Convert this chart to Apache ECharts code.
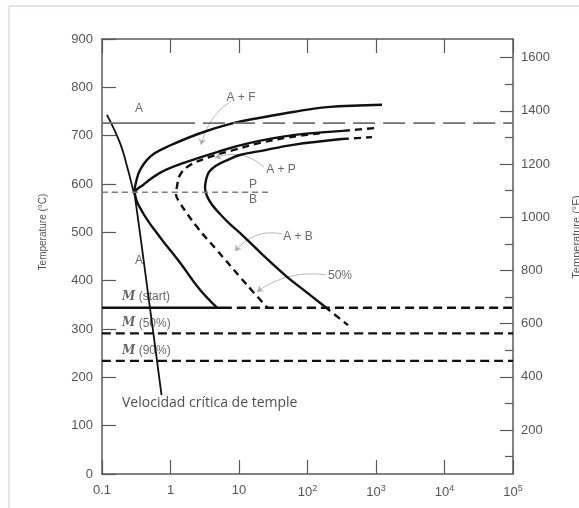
<!DOCTYPE html>
<html>
<head>
<meta charset="utf-8">
<script src="https://cdn.jsdelivr.net/npm/echarts@6/dist/echarts.min.js"></script>
<style>
html, body { margin: 0; padding: 0; background: #fff; }
#main { width: 579px; height: 508px; }
</style>
</head>
<body>
<div id="main"></div>
<script>
// tiempo (s, escala log) y temperatura (°C)
var xTicks = [0.1, 1, 10, 100, 1000, 10000, 100000];
var fTicks = [200, 400, 600, 800, 1000, 1200, 1400, 1600];
var fMinor = [100, 300, 500, 700, 900, 1100, 1300, 1500];

var ferriteStart = [[1224, 764], [193, 759], [61.4, 749], [20.3, 737], [8.17, 726], [2.70, 705], [0.89, 677], [0.594, 664], [0.454, 650], [0.359, 629], [0.324, 612], [0.293, 583]];
var startCurve = [[330, 710], [61.4, 701], [14.5, 685], [4.77, 666], [1.52, 643], [0.703, 623], [0.397, 598], [0.303, 581], [0.397, 540], [0.703, 490], [1.38, 437], [2.70, 381], [4.77, 344]];
var startTail = [[330, 710], [1035, 716]];
var halfCurve = [[152, 705], [55.6, 697], [20.3, 685], [8.17, 670], [3.77, 656], [1.93, 639], [1.38, 619], [1.24, 594], [1.20, 581], [1.29, 567], [2.44, 511], [4.77, 463], [10.3, 408], [16.0, 377], [26.5, 343]];
var finishCurve = [[319, 693], [61.4, 681], [20.3, 668], [10.3, 660], [6.9, 650], [4.77, 639], [3.65, 625], [3.30, 608], [3.19, 592], [3.41, 575], [4.04, 557], [5.28, 538], [7.39, 517], [10.3, 499], [22.4, 453], [50.2, 408], [95, 377], [180, 346]];
var finishTailTop = [[319, 693], [875, 697]];
var finishTailLow = [[180, 346], [390, 308]];
var critical = [[0.118, 743], [0.183, 685], [0.240, 629], [0.284, 588], [0.303, 573], [0.502, 343], [0.740, 163]];

var a1Solid = [[0.1, 726], [1.09, 726]];
var a1Dash = [[1.09, 726], [100000, 726]];
var pbLine = [[0.1, 583], [26.5, 583]];
var msSolid = [[0.1, 344], [5.84, 344]];
var msDash = [[5.84, 344], [100000, 344]];
var m50 = [[0.1, 291], [100000, 291]];
var m90 = [[0.1, 234], [100000, 234]];

var arrows = [
    [[7.64, 772], [2.79, 681], -0.2],
    [[23.2, 635], [4.47, 654], -0.3],
    [[42.4, 497], [8.75, 461], -0.3],
    [[186, 412], [18.3, 377], -0.2]
];
var notes = [
    ['A', 0.347, 755], ['A + F', 10.7, 778], ['A + P', 41, 629], ['P', 16, 598],
    ['B', 16, 567], ['A', 0.347, 441], ['A + B', 72.6, 492], ['50%', 298, 410]
];
var mNotes = [['start', 0.196, 366], ['50%', 0.196, 312], ['90%', 0.196, 254.5]];
var critNote = ['Velocidad crítica de temple', 0.196, 147];

var myChart = echarts.init(document.getElementById('main'));

function curve(data, dashed, color, width) {
    return {
        type: 'line', data: data, smooth: 0.4, symbol: 'none', silent: true,
        lineStyle: { color: color || '#111', width: width || 2.4, type: dashed || 'solid' }
    };
}

var axisColor = '#5a5a5a';
var series = [
    curve(ferriteStart),
    curve(startCurve),
    curve(startTail, [7, 5]),
    curve(halfCurve, [7, 5]),
    curve(finishCurve),
    curve(finishTailTop, [7, 5]),
    curve(finishTailLow, [7, 5]),
    curve(critical, null, '#111', 1.8),
    curve(a1Solid, null, '#707070', 1.8),
    curve(a1Dash, [22, 8], '#707070', 1.8),
    curve(pbLine, [6, 4], '#808080', 1.5),
    curve(msSolid, null, '#111', 2.4),
    curve(msDash, [9, 5], '#111', 2.4),
    curve(m50, [9, 5], '#111', 2.4),
    curve(m90, [9, 5], '#111', 2.4),
    {
        type: 'lines', coordinateSystem: 'cartesian2d', silent: true,
        symbol: ['none', 'arrow'], symbolSize: 6,
        lineStyle: { color: '#777', width: 1 },
        data: arrows.map(function (a) {
            return { coords: [a[0], a[1]], lineStyle: { curveness: a[2] } };
        })
    },
    {
        type: 'scatter', symbolSize: 0, silent: true,
        label: { show: true, position: 'inside', color: '#444', fontSize: 12, fontFamily: 'Liberation Sans',
            formatter: function (p) { return p.name; } },
        data: notes.map(function (n) { return { name: n[0], value: [n[1], n[2]] }; })
    },
    {
        type: 'scatter', symbolSize: 0, silent: true,
        label: { show: true, position: 'right', distance: 0, color: '#444', fontSize: 12, fontFamily: 'Liberation Sans',
            formatter: function (p) { return '{m|M} (' + p.name + ')'; },
            rich: { m: { fontFamily: 'DejaVu Serif', fontStyle: 'italic', fontWeight: 'bold', fontSize: 12, color: '#444' } } },
        data: mNotes.map(function (n) { return { name: n[0], value: [n[1], n[2]] }; })
    },
    {
        type: 'scatter', symbolSize: 0, silent: true,
        label: { show: true, position: 'right', distance: 0, color: '#222', fontSize: 14, fontFamily: 'Open Sans',
            formatter: function (p) { return p.name; } },
        data: [{ name: critNote[0], value: [critNote[1], critNote[2]] }]
    }
];

function xLabel(v) {
    var e = Math.round(Math.log(v) / Math.LN10);
    if (e === -1) return '0.1';
    if (e === 0) return '1';
    if (e === 1) return '10';
    return '10{s|' + e + '}';
}

option = {
    backgroundColor: '#fff',
    animation: false,
    grid: { left: 102, right: 66, top: 39, bottom: 34 },
    xAxis: [
        {
            type: 'log', logBase: 10, min: 0.1, max: 100000, position: 'bottom',
            axisLine: { lineStyle: { color: axisColor, width: 1.5 } },
            axisTick: { inside: true, length: 14, lineStyle: { color: axisColor, width: 1.2 } },
            splitLine: { show: false },
            axisLabel: {
                formatter: xLabel, color: '#555', fontSize: 13, fontFamily: 'Liberation Sans', margin: 10,
                rich: { s: { fontSize: 9, color: '#555', padding: [0, 0, 7, 0] } }
            }
        },
        {
            type: 'log', logBase: 10, min: 0.1, max: 100000, position: 'top',
            axisLine: { lineStyle: { color: axisColor, width: 1.5 } },
            axisTick: { inside: true, length: 14, lineStyle: { color: axisColor, width: 1.2 } },
            splitLine: { show: false },
            axisLabel: { show: false }
        }
    ],
    yAxis: [
        {
            type: 'value', min: 0, max: 900, interval: 100, position: 'left',
            axisLine: { show: true, lineStyle: { color: axisColor, width: 1.5 } },
            axisTick: { show: true, inside: true, length: 14, lineStyle: { color: axisColor, width: 1.2 } },
            splitLine: { show: false },
            axisLabel: { color: '#555', fontSize: 13, fontFamily: 'Liberation Sans', margin: 9 }
        },
        {
            type: 'value', min: 35, max: 1670, position: 'right', offset: 0,
            axisLine: { show: true, lineStyle: { color: axisColor, width: 1.5 } },
            axisTick: { show: true, inside: true, length: 13, customValues: fTicks, lineStyle: { color: axisColor, width: 1.2 } },
            splitLine: { show: false },
            axisLabel: { customValues: fTicks, color: '#555', fontSize: 13, fontFamily: 'Liberation Sans', margin: 8,
                formatter: function (v) { return String(v); } }
        },
        {
            type: 'value', min: 35, max: 1670, position: 'right', offset: 0,
            axisLine: { show: false },
            axisTick: { show: true, inside: true, length: 8, customValues: fMinor, lineStyle: { color: axisColor, width: 1.2 } },
            splitLine: { show: false },
            axisLabel: { show: false }
        }
    ],
    graphic: [
        { type: 'line', shape: { x1: 9, y1: 6, x2: 579, y2: 6 }, style: { stroke: '#d3dce8', lineWidth: 1.5 } },
        { type: 'line', shape: { x1: 9, y1: 6, x2: 9, y2: 508 }, style: { stroke: '#d3dce8', lineWidth: 1.5 } },
        { type: 'text', x: 43, y: 232, rotation: Math.PI / 2,
          style: { text: 'Temperature (°C)', fill: '#555', fontSize: 10, fontFamily: 'Liberation Sans', align: 'center', verticalAlign: 'middle' } },
        { type: 'text', x: 577, y: 237, rotation: Math.PI / 2,
          style: { text: 'Temperature (°F)', fill: '#555', fontSize: 11, fontFamily: 'Liberation Sans', align: 'center', verticalAlign: 'middle' } }
    ],
    series: series
};

myChart.setOption(option);
</script>
</body>
</html>
